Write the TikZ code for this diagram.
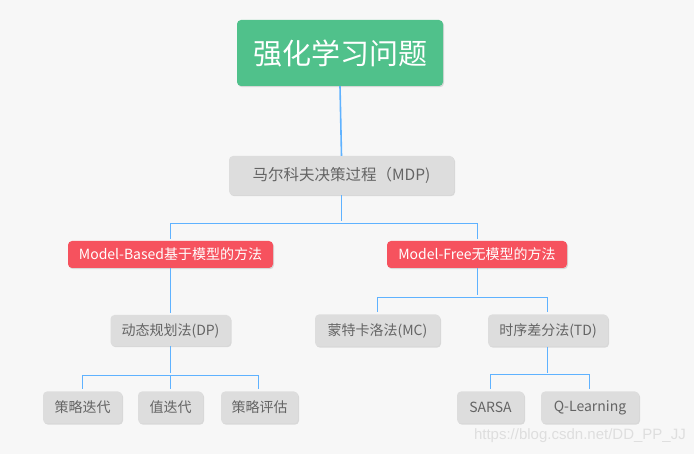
\documentclass[tikz,border=0pt]{standalone}
\usepackage{fontspec}
\setmainfont{Noto Sans CJK SC}
\newfontfamily\wmfont{Liberation Sans}
\usetikzlibrary{shadows}
\definecolor{bgc}{RGB}{247,247,247}
\definecolor{rootc}{RGB}{80,193,139}
\definecolor{redc}{RGB}{246,82,94}
\definecolor{grayc}{RGB}{221,221,221}
\definecolor{txtc}{RGB}{100,100,100}
\definecolor{linec}{RGB}{95,178,255}
\tikzset{
  box/.style={rounded corners=4pt, inner sep=0pt, align=center,
    drop shadow={shadow xshift=1pt, shadow yshift=-1.2pt, fill=black, opacity=0.12}},
  rootbox/.style={box, fill=rootc, text=white, font=\fontsize{29}{32}\selectfont},
  redbox/.style={box, fill=redc, text=white, font=\fontsize{14}{16}\selectfont},
  graybox/.style={box, fill=grayc, text=txtc, font=\fontsize{14}{16}\selectfont},
  conn/.style={draw=linec, line width=1.2pt},
  thin conn/.style={draw=linec, line width=1pt, shorten >=2pt}
}
\begin{document}
\begin{tikzpicture}[x=1pt,y=-1pt]
\fill[bgc] (0,0) rectangle (694,454);
\useasboundingbox (0,0) rectangle (694,454);

\node[rootbox, minimum width=206pt, minimum height=66pt] (root) at (340,53) {强化学习问题};
\node[graybox, font=\fontsize{15.5}{18}\selectfont, minimum width=225pt, minimum height=39pt] (mdp) at (341.5,175.5) {马尔科夫决策过程（MDP)};
\node[redbox, minimum width=205pt, minimum height=27pt] (mb) at (170.5,254.5) {Model-Based基于模型的方法};
\node[redbox, minimum width=180pt, minimum height=27pt] (mf) at (477,254.5) {Model-Free无模型的方法};
\node[graybox, minimum width=120pt, minimum height=31pt] (dp) at (170.5,330.5) {动态规划法(DP)};
\node[graybox, minimum width=125pt, minimum height=32pt] (mc) at (377.5,330.5) {蒙特卡洛法(MC)};
\node[graybox, minimum width=120pt, minimum height=32pt] (td) at (548,330.5) {时序差分法(TD)};
\node[graybox, minimum width=79pt, minimum height=32pt] (p1) at (82.5,407.5) {策略迭代};
\node[graybox, minimum width=65pt, minimum height=32pt] (p2) at (170.5,407.5) {值迭代};
\node[graybox, minimum width=77pt, minimum height=32pt] (p3) at (259.5,407.5) {策略评估};
\node[graybox, minimum width=67pt, minimum height=32pt] (sarsa) at (490.5,407.5) {SARSA};
\node[graybox, minimum width=98pt, minimum height=32pt] (ql) at (590,407.5) {Q-Learning};

\draw[conn, line width=1.6pt] (root.south) -- (mdp.north);
\draw[thin conn] (mdp.south) -- ++(0,28) coordinate (j1);
\draw[thin conn] (j1) -| (mb.north);
\draw[thin conn] (j1) -| (mf.north);
\draw[thin conn] (mb.south) -- (dp.north);
\draw[thin conn] (mf.south) -- ++(0,29) coordinate (j2);
\draw[thin conn] (j2) -| (mc.north);
\draw[thin conn] (j2) -| ([xshift=-1pt]td.north);
\draw[thin conn] (dp.south) -- ++(0,29) coordinate (j3);
\draw[thin conn] (j3) -| (p1.north);
\draw[thin conn] (j3) -- (p2.north);
\draw[thin conn] (j3) -| ([xshift=-1.5pt]p3.north);
\draw[thin conn] ([xshift=-1pt]td.south) -- ++(0,28) coordinate (j4);
\draw[thin conn] (j4) -| (sarsa.north);
\draw[thin conn] (j4) -| ([xshift=-1pt]ql.north);

\node[font=\wmfont\fontsize{15}{17}\selectfont, text=black!13, inner sep=0pt, anchor=east] (wm) at (686,436) {https://blog.csdn.net/DD\_PP\_JJ};
\end{tikzpicture}
\end{document}
